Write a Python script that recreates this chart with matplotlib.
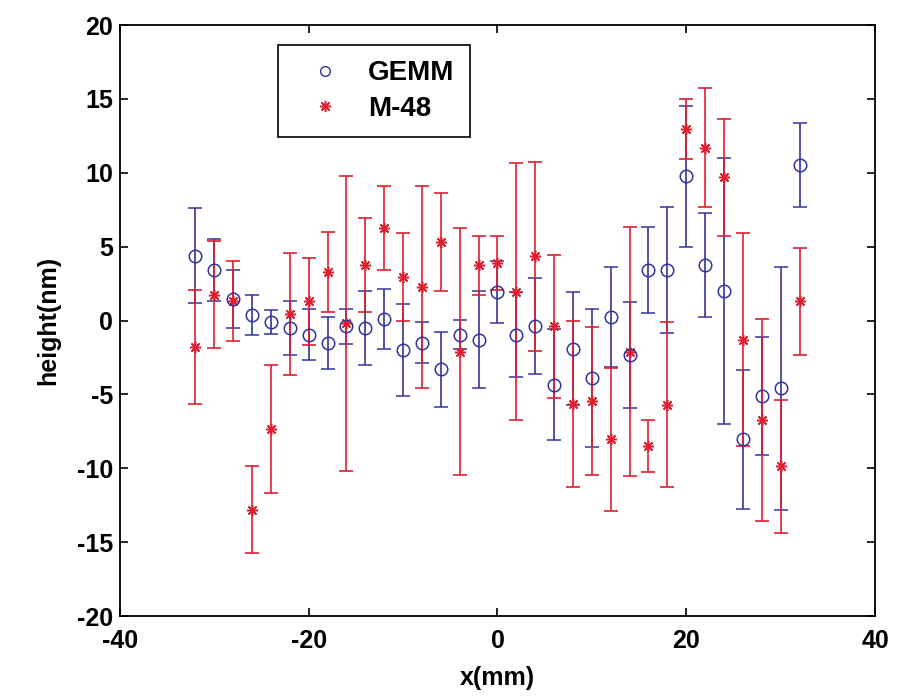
import numpy as np
import matplotlib
matplotlib.use('Agg')
import matplotlib.pyplot as plt
from matplotlib.lines import Line2D

plt.rcParams['font.family'] = ['Liberation Sans', 'DejaVu Sans']
plt.rcParams['font.weight'] = 'bold'
plt.rcParams['axes.unicode_minus'] = False

# positions along the sample (mm)
x_pos = [-32, -30, -28, -26, -24, -22, -20, -18, -16, -14, -12, -10, -8, -6, -4, -2,
         0, 2, 4, 6, 8, 10, 12, 14, 16, 18, 20, 22, 24, 26, 28, 30, 32]

gemm_h = [4.4, 3.4, 1.45, 0.35, -0.1, -0.5, -0.95, -1.5, -0.4, -0.5, 0.1, -2.0, -1.5, -3.3, -0.95, -1.3,
          1.9, -0.95, -0.35, -4.35, -1.9, -3.9, 0.25, -2.35, 3.4, 3.4, 9.75, 3.75, 2.0, -8.05, -5.1, -4.6, 10.5]
gemm_err = [3.2, 2.1, 1.95, 1.35, 0.8, 1.8, 1.75, 1.75, 1.2, 2.5, 2.05, 3.1, 1.4, 2.55, 1.0, 3.3,
            2.1, 2.87, 3.25, 3.75, 3.8, 4.65, 3.4, 3.6, 2.9, 4.25, 4.8, 3.5, 9.0, 4.7, 4.0, 8.25, 2.85]

m48_h = [-1.8, 1.75, 1.3, -12.8, -7.35, 0.45, 1.3, 3.3, -0.2, 3.75, 6.25, 2.95, 2.25, 5.3, -2.1, 3.75,
         3.9, 1.95, 4.35, -0.4, -5.65, -5.45, -8.05, -2.1, -8.5, -5.7, 12.95, 11.7, 9.7, -1.3, -6.75, -9.85, 1.3]
m48_err = [3.85, 3.6, 2.7, 2.95, 4.35, 4.15, 2.95, 2.7, 10.0, 3.2, 2.85, 2.95, 6.85, 3.3, 8.35, 2.0,
           1.85, 8.7, 6.4, 4.85, 5.6, 5.0, 4.85, 8.45, 1.75, 5.6, 2.05, 4.05, 3.95, 7.2, 6.85, 4.5, 3.6]

blue = '#34349a'
red = '#e02030'
star = (8, 2, 0)  # matlab style asterisk

fig = plt.figure(figsize=(8.98, 6.99), dpi=100)
ax = fig.add_axes([0.1336, 0.1187, 0.8408, 0.8455])

ax.errorbar(x_pos, gemm_h, yerr=gemm_err, fmt='o', color=blue, mfc='none', mec=blue,
            ms=9, mew=1.1, elinewidth=1.2, capsize=5, capthick=1.2)
ax.errorbar(x_pos, m48_h, yerr=m48_err, fmt='none', ecolor=red,
            elinewidth=1.2, capsize=5, capthick=1.2)
ax.plot(x_pos, m48_h, linestyle='none', marker=star, color=red, ms=8, mew=1.1)

ax.set_xlim(-40, 40)
ax.set_ylim(-20, 20)
ax.set_xticks([-40, -20, 0, 20, 40])
ax.set_yticks(np.arange(-20, 21, 5))
ax.tick_params(direction='in', length=6, width=1.2, top=True, right=True, labelsize=18)
ax.tick_params(axis='x', pad=9)
ax.tick_params(axis='y', pad=5)
for s in ax.spines.values():
    s.set_linewidth(1.3)
for lab in ax.get_xticklabels() + ax.get_yticklabels():
    lab.set_fontweight('bold')

ax.set_xlabel('x(mm)', fontsize=18, fontweight='bold', labelpad=10)
ax.set_ylabel('height(nm)', fontsize=18, fontweight='bold', labelpad=12)

handles = [Line2D([], [], linestyle='none', marker='o', mfc='none', mec=blue, ms=7, mew=1),
           Line2D([], [], linestyle='none', marker=star, color=red, ms=8, mew=1.1)]
leg = ax.legend(handles, ['GEMM', 'M-48'], loc='upper left', bbox_to_anchor=(0.209, 0.966),
                borderaxespad=0, fancybox=False, framealpha=1, edgecolor='black',
                prop={'size': 20, 'weight': 'bold'}, handletextpad=0.4,
                borderpad=0.55, labelspacing=0.35, handlelength=2.3)
leg.get_frame().set_linewidth(1.2)

fig.savefig('out.png', dpi=100)
